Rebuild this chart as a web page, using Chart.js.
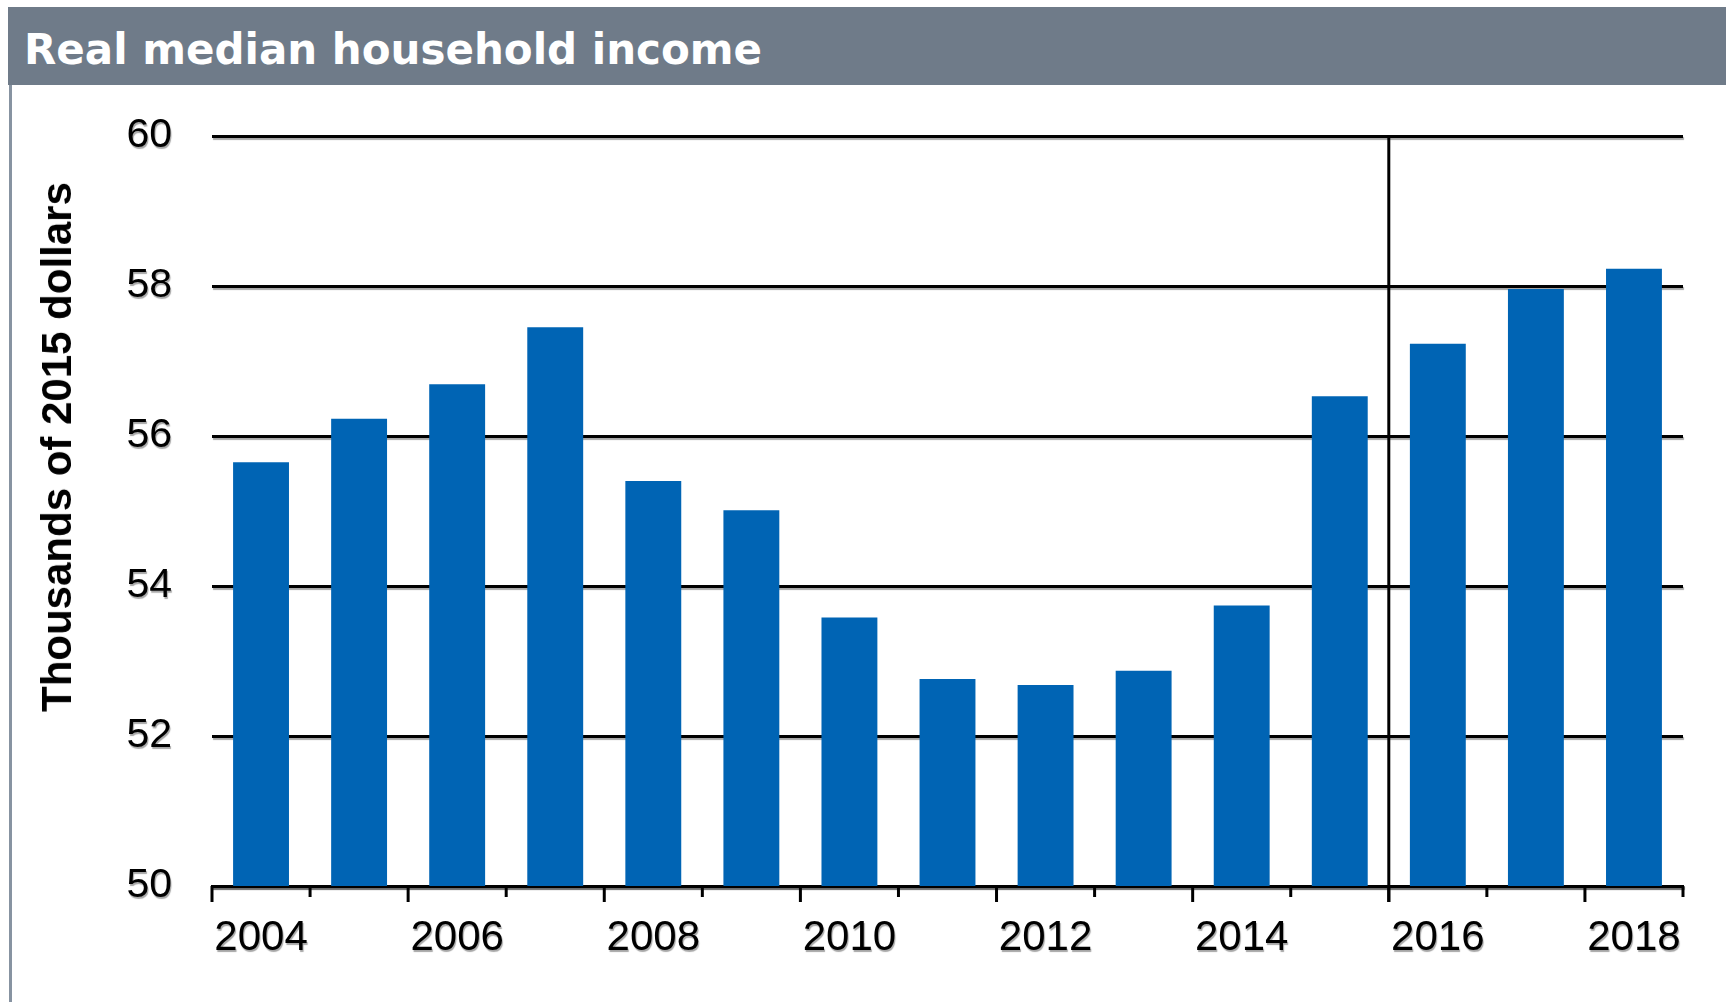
<!DOCTYPE html>
<html>
<head>
<meta charset="utf-8">
<script src="https://cdn.jsdelivr.net/npm/chart.js@4"></script>
<style>
  body { margin: 0; background: #fff; width: 1726px; height: 1002px; overflow: hidden; position: relative; }
  #wrap { position: absolute; left: 0; top: 0; width: 1726px; height: 1002px; }
  #titleBar { position: absolute; left: 8px; top: 7px; width: 1718px; height: 78px; background: #6f7b89; }
  #titleText { position: absolute; left: 24px; top: 25px; line-height: 42px; color: #fff;
    font: bold 42px "DejaVu Sans", Verdana, sans-serif; white-space: nowrap; }
  #leftLine { position: absolute; left: 9px; top: 85px; width: 3px; height: 917px; background: #8793a1; }
  #yTitle { position: absolute; left: 57px; top: 447px; transform: translate(-50%, -50%) rotate(-90deg);
    font: bold 42px "Liberation Sans", Arial, sans-serif; line-height: 42px; color: #000; white-space: nowrap; }
</style>
</head>
<body>
<div id="wrap"><canvas id="incomeChart" width="1726" height="1002"></canvas></div>
<div id="titleBar"></div>
<div id="titleText">Real median household income</div>
<div id="leftLine"></div>
<div id="yTitle">Thousands of 2015 dollars</div>
<script>
const years = ['2004', '2005', '2006', '2007', '2008', '2009', '2010', '2011', '2012', '2013', '2014', '2015', '2016', '2017', '2018'];
const income = [55.65, 56.23, 56.69, 57.45, 55.40, 55.01, 53.58, 52.76, 52.68, 52.87, 53.74, 56.53, 57.23, 57.96, 58.23];
const yTicks = [50, 52, 54, 56, 58, 60];
const splitYear = '2016';

// soft gray shadow under the axis text and grid lines, like the original
const axisShadow = {
    id: 'axisShadow',
    beforeDraw(chart) {
        const c = chart.ctx;
        c.save();
        c.shadowColor = 'rgba(0,0,0,0.35)';
        c.shadowOffsetX = 1;
        c.shadowOffsetY = 2;
        c.shadowBlur = 1;
    },
    beforeDatasetsDraw(chart) {
        chart.ctx.restore();
    }
};

// boundary ticks (alternating long/short) and the divider before 2016
const tickMarks = {
    id: 'tickMarks',
    afterDraw(chart) {
        const x = chart.scales.x;
        const area = chart.chartArea;
        const ctx = chart.ctx;
        const step = x.width / years.length;
        ctx.save();
        ctx.strokeStyle = '#000';
        ctx.lineWidth = 3;
        for (let i = 0; i <= years.length; i++) {
            const px = x.left + i * step;
            const len = i % 2 === 0 ? 16 : 11;
            ctx.beginPath();
            ctx.moveTo(px, area.bottom);
            ctx.lineTo(px, area.bottom + len);
            ctx.stroke();
        }
        const sx = x.getPixelForValue(years.indexOf(splitYear)) - step / 2;
        ctx.beginPath();
        ctx.moveTo(sx, area.top);
        ctx.lineTo(sx, area.bottom + 16);
        ctx.stroke();
        ctx.restore();
    }
};

const ctx = document.getElementById('incomeChart');
ctx.chart = new Chart(ctx, {
    type: 'bar',
    data: {
        labels: years,
        datasets: [{
            label: 'Real median household income',
            data: income,
            backgroundColor: '#0064b4',
            categoryPercentage: 1,
            barPercentage: 0.57
        }]
    },
    options: {
        responsive: false,
        animation: false,
        layout: { padding: { top: 136, right: 43, left: 0, bottom: 0 } },
        plugins: { legend: { display: false }, tooltip: { enabled: false } },
        scales: {
            x: {
                afterFit(scale) { scale.height = 116; },
                grid: { display: false, drawTicks: false },
                border: { display: true, color: '#000', width: 3 },
                ticks: {
                    autoSkip: false,
                    maxRotation: 0,
                    padding: 27,
                    color: '#000',
                    font: { family: '"Liberation Sans", Arial, sans-serif', size: 42 },
                    callback: function(value, index) {
                        return index % 2 === 0 ? years[index] : '';
                    }
                }
            },
            y: {
                min: 50,
                max: 60,
                afterFit(scale) { scale.width = 212; },
                afterBuildTicks(scale) { scale.ticks = yTicks.map(v => ({ value: v })); },
                grid: { color: '#000', lineWidth: 3, drawTicks: false },
                border: { display: false },
                ticks: {
                    padding: 40,
                    color: '#000',
                    font: { family: '"Liberation Sans", Arial, sans-serif', size: 41 }
                }
            }
        }
    },
    plugins: [axisShadow, tickMarks]
});
</script>
</body>
</html>
